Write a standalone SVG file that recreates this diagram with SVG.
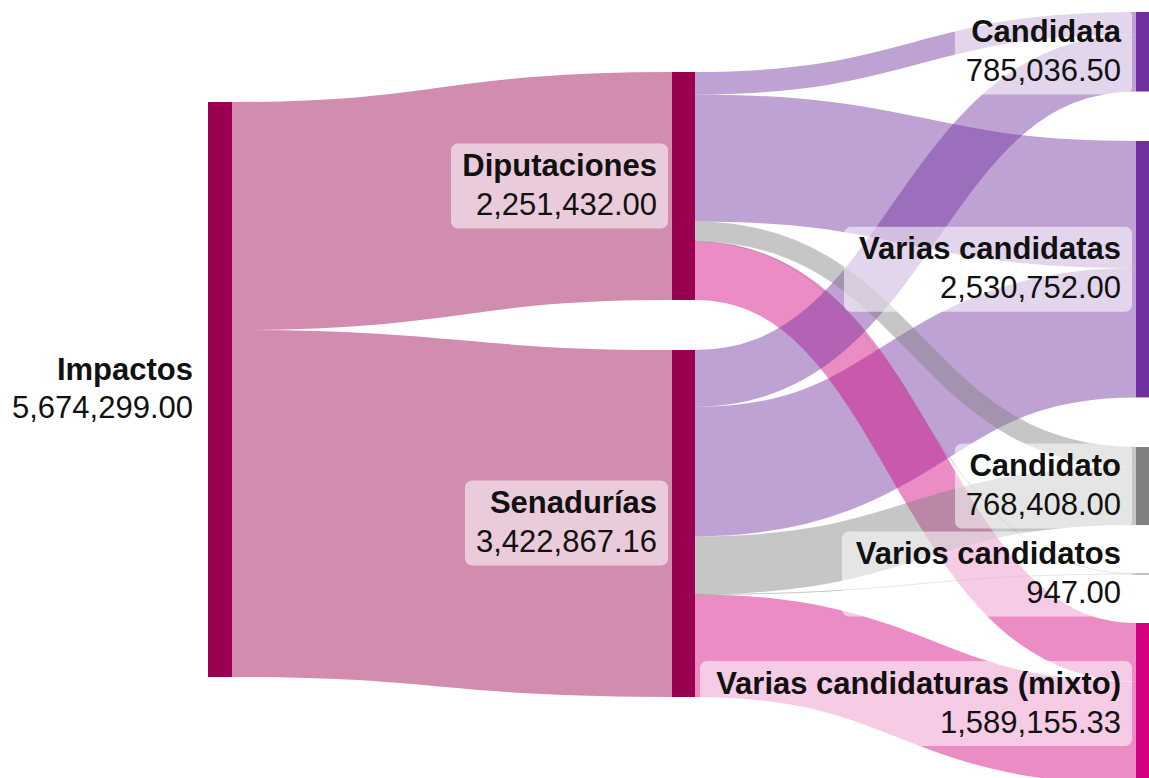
<svg xmlns="http://www.w3.org/2000/svg" width="1149" height="778" viewBox="0 0 1149 778">
<style>
.lnk{fill:none;stroke-opacity:0.45}
.mag{fill:#990050}
.pur{fill:#7030a0}
.gry{fill:#808080}
.pnk{fill:#d4007f}
.smag{stroke:#990050}
.spur{stroke:#7030a0}
.sgry{stroke:#808080}
.spnk{stroke:#d4007f}
.box{fill:#ffffff;fill-opacity:0.55}
.t{font-family:"Liberation Sans",Arial,sans-serif;font-size:31px;fill:#111;text-anchor:end}
.b{font-weight:bold}
</style>
<rect width="1149" height="778" fill="#ffffff"/>
<g id="connectors">
<path class="lnk smag" stroke-width="228" d="M232 216 C452 216 452 186 672 186"/>
<path class="lnk smag" stroke-width="347" d="M232 503.5 C452 503.5 452 523.5 672 523.5"/>
<path class="lnk spur" stroke-width="22.5" d="M695 83.25 C915.5 83.25 915.5 23.25 1136 23.25"/>
<path class="lnk spur" stroke-width="127" d="M695 158 C915.5 158 915.5 204.5 1136 204.5"/>
<path class="lnk spur" stroke-width="129.4" d="M695 471.7 C915.5 471.7 915.5 332.7 1136 332.7"/>
<path class="lnk spnk" stroke-width="58.5" d="M695 270.75 C915.5 270.75 915.5 652.25 1136 652.25"/>
<path class="lnk spur" stroke-width="57" d="M695 378.5 C915.5 378.5 915.5 63 1136 63"/>
<path class="lnk sgry" stroke-width="20" d="M695 231.5 C915.5 231.5 915.5 457 1136 457"/>
<path class="lnk sgry" stroke-width="58" d="M695 565.4 C915.5 565.4 915.5 496 1136 496"/>
<path class="lnk spnk" stroke-width="102.6" d="M695 645.7 C915.5 645.7 915.5 732.8 1136 732.8"/>
<path class="lnk sgry" stroke-width="1" d="M695 241.5 C915.5 241.5 915.5 574 1136 574"/>
<path class="lnk sgry" stroke-width="1" d="M695 594.4 C915.5 594.4 915.5 574 1136 574"/>
</g>
<g id="node-impactos">
<rect class="mag" x="208" y="102" width="24" height="575"/>
<text class="t b" x="193" y="380">Impactos</text>
<text class="t" x="193" y="418">5,674,299.00</text>
</g>
<g id="node-diputaciones">
<rect class="mag" x="672" y="72" width="23" height="228"/>
<rect class="box" x="451" y="143.5" width="217" height="85" rx="7"/>
<text class="t b" x="657" y="176">Diputaciones</text>
<text class="t" x="657" y="215">2,251,432.00</text>
</g>
<g id="node-senadurias">
<rect class="mag" x="672" y="350" width="23" height="347"/>
<rect class="box" x="465" y="480.5" width="203" height="85" rx="7"/>
<text class="t b" x="657" y="513">Senadurías</text>
<text class="t" x="657" y="552">3,422,867.16</text>
</g>
<g id="node-candidata">
<rect class="pur" x="1136" y="12" width="13" height="79.5"/>
<rect class="box" x="955" y="9.5" width="177" height="85" rx="7"/>
<text class="t b" x="1121" y="42">Candidata</text>
<text class="t" x="1121" y="81">785,036.50</text>
</g>
<g id="node-varias-candidatas">
<rect class="pur" x="1136" y="141" width="13" height="256.4"/>
<rect class="box" x="844" y="226.7" width="288" height="85" rx="7"/>
<text class="t b" x="1121" y="259">Varias candidatas</text>
<text class="t" x="1121" y="298">2,530,752.00</text>
</g>
<g id="node-candidato">
<rect class="gry" x="1136" y="447" width="13" height="78"/>
<rect class="box" x="955" y="443.5" width="177" height="85" rx="7"/>
<text class="t b" x="1121" y="476">Candidato</text>
<text class="t" x="1121" y="515">768,408.00</text>
</g>
<g id="node-varios-candidatos">
<rect class="gry" x="1136" y="573.5" width="13" height="1"/>
<rect class="box" x="842" y="531.5" width="290" height="85" rx="7"/>
<text class="t b" x="1121" y="564">Varios candidatos</text>
<text class="t" x="1121" y="603">947.00</text>
</g>
<g id="node-mixto">
<rect class="pnk" x="1136" y="623" width="13" height="161"/>
<rect class="box" x="700" y="661" width="432" height="85" rx="7"/>
<text class="t b" x="1121" y="694">Varias candidaturas (mixto)</text>
<text class="t" x="1121" y="733">1,589,155.33</text>
</g>
</svg>
